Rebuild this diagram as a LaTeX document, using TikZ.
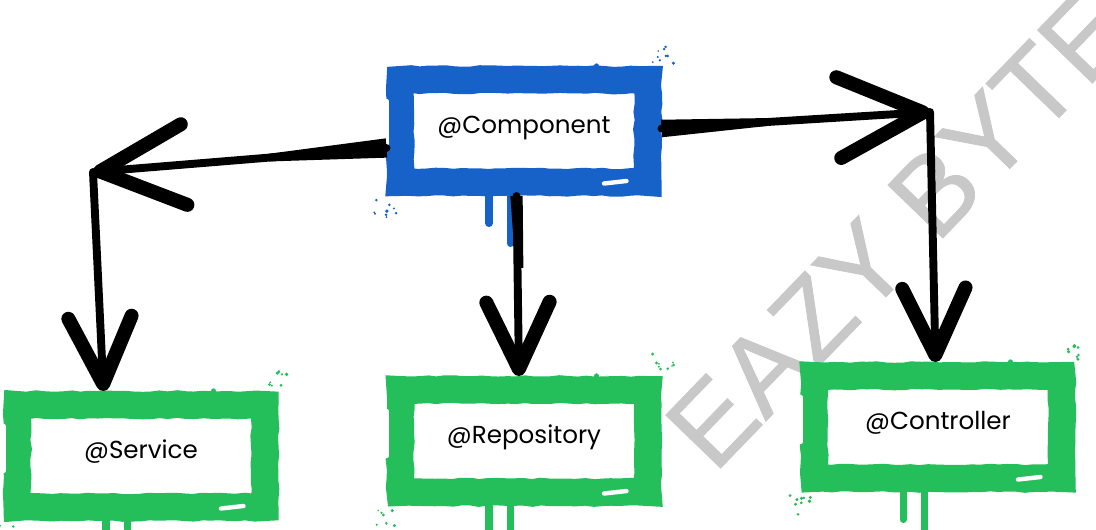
\documentclass[tikz,border=0pt]{standalone}
\usepackage{fontspec}
\setmainfont{Poppins}
\newfontfamily\markfont[FakeBold=0.8]{Liberation Sans}
\usetikzlibrary{arrows.meta,calc,decorations.pathmorphing}

\definecolor{paintblue}{RGB}{22,98,200}
\definecolor{paintgreen}{RGB}{36,190,90}
\definecolor{markgray}{RGB}{200,200,200}

% wedge that makes a brush stroke start wide and thin out
\newcommand\brushtaper[3]{%
  \path (#1) -- (#2) coordinate[pos=0.4] (tapermid);
  \fill ($(#1)!#3!90:(#2)$) -- ($(tapermid)!2.2pt!90:(#2)$)
    -- ($(tapermid)!2.2pt!-90:(#2)$) -- ($(#1)!#3!-90:(#2)$) -- cycle;
}

\tikzset{
  frame/.style={draw=#1, fill=white, line width=0.55cm,
    line join=miter, miter limit=3,
    minimum width=4.95cm, minimum height=2.05cm,
    font=\fontsize{14}{17}\selectfont, text height=0.75em, text depth=0.45em,
    decorate, decoration={random steps,segment length=5pt,amplitude=0.45pt}},
  drip/.style={line width=4pt, line cap=round},
  brush/.style={black, line width=4.5pt, line cap=round},
  hbarb/.style={-{Straight Barb[length=48pt,width=46pt,line width=8pt,round]}},
  vbarb/.style={-{Straight Barb[length=38pt,width=36pt,line width=8pt,round]}},
}

\begin{document}
\begin{tikzpicture}
  \pgfmathsetseed{7}
  \useasboundingbox (0,0) rectangle (21.92,10.58);

  \node[markgray, font=\markfont\fontsize{63}{63}\selectfont, rotate=46,
    anchor=base west] (mark) at (14.2,1.0) {EAZY BYTES};

  \node[frame=paintblue]  (comp) at (10.48,7.96) {@Component};
  \node[frame=paintgreen] (svc)  at (2.82,1.46)  {@Service};
  \node[frame=paintgreen] (repo) at (10.48,1.76) {@Repository};
  \node[frame=paintgreen] (ctrl) at (18.76,2.04) {@Controller};

  % paint runs and spray round each frame
  \foreach \b/\c in {comp/paintblue,svc/paintgreen,repo/paintgreen,ctrl/paintgreen}{
    \draw[drip,\c] ([xshift=-0.7cm]\b.south) -- ++(0,-0.55cm);
    \draw[drip,\c] ([xshift=-0.27cm]\b.south) -- ++(0,-0.95cm);
    \draw[\c, line width=3pt, line cap=round] ([xshift=1.45cm]\b.north) -- ++(0,-0.48cm);
    \draw[white, line width=2.5pt, line cap=round]
      ([yshift=0.6cm]\b.west) -- ([yshift=-0.3cm]\b.west);
    \draw[white, line width=2.5pt, line cap=round]
      ([xshift=1.6cm,yshift=0.25cm]\b.south) -- ([xshift=2.05cm,yshift=0.3cm]\b.south);
    \foreach \i in {1,...,9}{
      \fill[\c] ([shift={({0.45*rnd-0.2},{0.4*rnd+0.05})}]\b.north east) circle[radius=0.5pt+0.6pt*rnd];
      \fill[\c] ([shift={({0.2-0.45*rnd},{-0.4*rnd-0.05})}]\b.south west) circle[radius=0.5pt+0.6pt*rnd];
    }
  }

  \coordinate (lc) at (1.86,7.14);
  \coordinate (rc) at (18.6,8.34);
  \coordinate (cw) at ([yshift=-0.34cm]comp.west);
  \coordinate (ce) at ([yshift=0.05cm]comp.east);
  \coordinate (cs) at ([xshift=-0.15cm]comp.south);

  \brushtaper{cw}{lc}{5.5pt}
  \brushtaper{ce}{rc}{5pt}
  \brushtaper{cs}{repo.north}{3.5pt}

  \draw[brush,hbarb] (cw) -- (lc);
  \draw[brush,hbarb] (ce) -- (rc);
  \draw[brush,vbarb] (lc) -- ([xshift=-0.75cm]svc.north);
  \draw[brush,vbarb] (cs) -- ([xshift=-0.1cm]repo.north);
  \draw[brush,vbarb] (rc) -- ([xshift=-0.05cm]ctrl.north);

\end{tikzpicture}
\end{document}
